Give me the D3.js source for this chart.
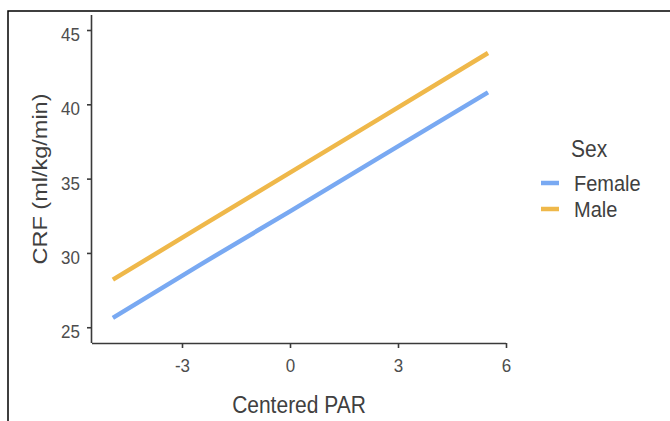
<!DOCTYPE html>
<html>
<head>
<meta charset="utf-8">
<script src="https://cdn.jsdelivr.net/npm/d3@7"></script>
<style>
  html, body { margin: 0; padding: 0; background: #fff; }
  svg { display: block; font-family: "Liberation Sans", Arial, sans-serif; }
</style>
</head>
<body>
<div id="chart"></div>
<script>
// Werte
const parValues = [-4.92, -2.5, 0, 2.5, 5.5];
const femaleCRF = [25.63, 29.2, 32.8, 36.45, 40.8];
const maleCRF = [28.2, 31.75, 35.4, 39.05, 43.45];
const sexLabels = ["Female", "Male"];
const sexColors = ["#79a9f2", "#efb84a"];
const xTicks = [-3, 0, 3, 6];
const yTicks = [25, 30, 35, 40, 45];

const W = 670, H = 421;
const panel = { left: 92, right: 506, top: 15, bottom: 343 };
const stretch = 1.12; // Schrift im Original leicht vertikal gestreckt

const svg = d3.select("#chart").append("svg")
    .attr("width", W)
    .attr("height", H);

// Rahmen (nur oben und links sichtbar)
svg.append("path")
    .attr("d", `M8,${H} V11 H${W}`)
    .attr("fill", "none")
    .attr("stroke", "#000")
    .attr("stroke-width", 1.5);

// Skalen
const x = d3.scaleLinear().domain([-5.5, 6.0]).range([panel.left, panel.right]);
const y = d3.scaleLinear().domain([23.94, 46.01]).range([panel.bottom, panel.top]);

const series = sexLabels.map((name, i) => ({
    name,
    color: sexColors[i],
    values: parValues.map((p, j) => ({ par: p, crf: (i === 0 ? femaleCRF : maleCRF)[j] }))
}));

const line = d3.line()
    .x(d => x(d.par))
    .y(d => y(d.crf));

svg.append("g")
    .selectAll("path")
    .data(series)
    .join("path")
    .attr("fill", "none")
    .attr("stroke", d => d.color)
    .attr("stroke-width", 4.5)
    .attr("d", d => line(d.values));

// Achsen
const axisColor = "#3a3a3a";
const labelColor = "#4d4d4d";
const titleColor = "#404040";

const xAxis = svg.append("g")
    .attr("transform", `translate(0,${panel.bottom})`)
    .call(d3.axisBottom(x).tickValues(xTicks).tickFormat(d => String(d))
        .tickSize(5).tickSizeOuter(0).tickPadding(5));
xAxis.select(".domain").attr("stroke", axisColor).attr("stroke-width", 1.6)
    .attr("d", `M${panel.left},0.5H${panel.right}`);
xAxis.selectAll(".tick line").attr("stroke", axisColor).attr("stroke-width", 1.6);
xAxis.selectAll(".tick text")
    .attr("fill", labelColor)
    .attr("font-size", 17)
    .attr("font-family", "Liberation Sans, Arial, sans-serif")
    .attr("y", 7)
    .attr("dy", "1.1em")
    .attr("transform", `scale(1,${stretch})`);

const yAxis = svg.append("g")
    .attr("transform", `translate(${panel.left},0)`)
    .call(d3.axisLeft(y).tickValues(yTicks).tickSize(5).tickSizeOuter(0).tickPadding(7));
yAxis.select(".domain").attr("stroke", axisColor).attr("stroke-width", 1.6)
    .attr("d", `M-0.5,${panel.top}V${panel.bottom}`);
yAxis.selectAll(".tick line").attr("stroke", axisColor).attr("stroke-width", 1.6);
yAxis.selectAll(".tick text")
    .attr("fill", labelColor)
    .attr("font-size", 17)
    .attr("font-family", "Liberation Sans, Arial, sans-serif")
    .attr("dy", "0.55em")
    .attr("transform", `scale(1,${stretch})`);

// Achsentitel
svg.append("text")
    .attr("transform", `translate(${(panel.left + panel.right) / 2},413) scale(1,${stretch})`)
    .attr("text-anchor", "middle")
    .attr("font-size", 21)
    .attr("fill", titleColor)
    .text("Centered PAR");

svg.append("text")
    .attr("transform", `translate(47,${(panel.top + panel.bottom) / 2}) rotate(-90) scale(${stretch},1)`)
    .attr("text-anchor", "middle")
    .attr("font-size", 21)
    .attr("fill", titleColor)
    .text("CRF (ml/kg/min)");

// Legende
const legend = svg.append("g");
legend.append("text")
    .attr("transform", `translate(571,157) scale(1,${stretch})`)
    .attr("font-size", 21)
    .attr("fill", titleColor)
    .text("Sex");

const item = legend.selectAll("g.item")
    .data(series)
    .join("g")
    .attr("class", "item")
    .attr("transform", (d, i) => `translate(0,${183 + i * 26})`);

item.append("line")
    .attr("x1", 541).attr("x2", 559)
    .attr("y1", 0).attr("y2", 0)
    .attr("stroke", d => d.color)
    .attr("stroke-width", 4.5);

item.append("text")
    .attr("transform", `translate(574,${0.36 * 20 * stretch}) scale(1,${stretch})`)
    .attr("font-size", 20)
    .attr("fill", titleColor)
    .text(d => d.name);
</script>
</body>
</html>
